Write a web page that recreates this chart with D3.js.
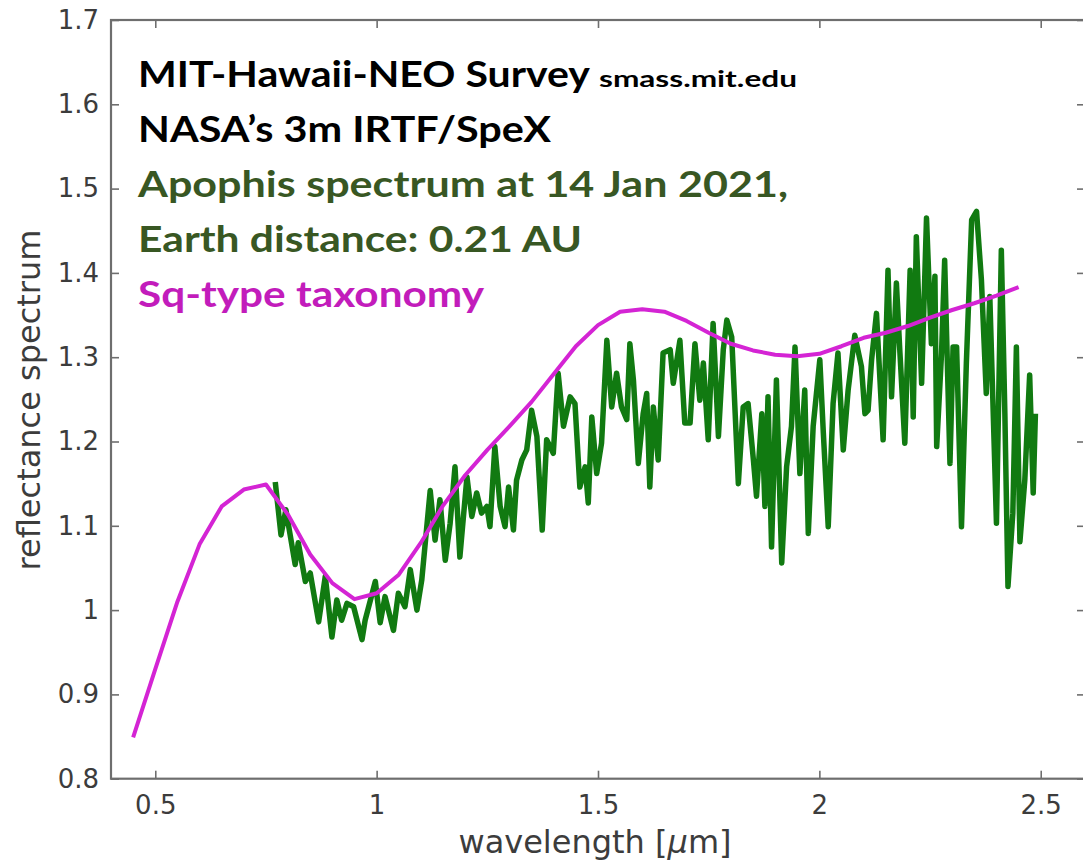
<!-- Apophis reflectance spectrum, MIT-Hawaii NEO survey -->
<head><title>Apophis spectrum</title></head>

<script src="https://d3js.org/d3.v7.min.js"></script>

<body style="margin:0; background:white;">
<svg></svg>

<script>

// Sq-type taxonomy template (magenta curve)
var sqWave = [0.45,0.5,0.55,0.6,0.65,0.7,0.75,0.8,0.85,0.9,0.95,1.0,1.05,1.1,1.15,1.2,1.25,1.3,1.35,1.4,1.45,1.5,1.55,1.6,1.65,1.7,1.75,1.8,1.85,1.9,1.95,2.0,2.05,2.1,2.15,2.2,2.25,2.3,2.35,2.4,2.45];
var sqRefl = [0.849,0.93,1.01,1.078,1.123,1.143,1.149,1.113,1.066,1.032,1.013,1.02,1.042,1.08,1.124,1.16,1.19,1.218,1.247,1.28,1.313,1.338,1.354,1.357,1.354,1.343,1.329,1.316,1.308,1.303,1.301,1.304,1.313,1.323,1.329,1.337,1.347,1.356,1.364,1.373,1.383];

// Apophis spectrum, 14 Jan 2021 (green curve)
var apWave = [0.771,0.784,0.795,0.816,0.823,0.839,0.850,0.869,0.884,0.899,0.910,0.921,0.933,0.948,0.967,0.974,0.997,1.008,1.019,1.038,1.049,1.064,1.076,1.091,1.102,1.121,1.132,1.143,1.155,1.166,1.177,1.188,
  1.204,1.215,1.226,1.237,1.249,1.256,1.267,1.279,1.290,1.298,1.309,1.316,1.328,1.339,1.350,1.362,1.374,1.384,1.399,1.410,1.422,1.437,1.448,1.459,1.471,1.478,1.486,1.497,1.508,1.520,1.531,1.542,1.553,1.565,1.572,1.580,1.591,1.602,1.610,1.617,1.625,1.636,1.647,
  1.663,1.670,1.685,1.696,1.708,1.719,1.730,1.738,1.749,1.760,1.772,1.783,1.791,1.802,1.817,1.828,1.839,1.851,1.858,1.870,1.877,1.884,1.892,1.903,1.915,1.926,1.937,1.945,1.956,1.967,1.975,1.986,2.001,2.009,2.020,2.031,2.042,2.054,2.065,2.080,2.095,2.103,
  2.110,2.118,2.129,2.144,2.155,2.163,2.174,2.182,2.193,2.205,2.212,2.219,2.231,2.242,2.253,2.261,2.265,2.276,2.283,2.295,2.302,2.310,2.321,2.332,2.344,2.355,2.366,2.377,2.385,2.400,2.411,2.419,2.426,2.437,2.445,2.453,2.464,2.475,2.483,2.488];
var apRefl = [1.152,1.089,1.119,1.054,1.080,1.034,1.044,0.986,1.040,0.968,1.012,0.988,1.008,1.004,0.965,0.988,1.034,0.985,1.016,0.976,1.020,1.004,1.048,1.000,1.036,1.142,1.083,1.131,1.059,1.103,1.170,1.063,
  1.158,1.111,1.139,1.115,1.123,1.099,1.194,1.123,1.099,1.146,1.095,1.154,1.178,1.190,1.237,1.206,1.095,1.202,1.186,1.281,1.218,1.253,1.245,1.146,1.170,1.127,1.229,1.162,1.198,1.320,1.241,1.281,1.241,1.226,1.316,1.273,1.174,1.233,1.257,1.146,1.241,1.178,1.305,
  1.309,1.269,1.320,1.222,1.222,1.316,1.249,1.293,1.202,1.340,1.206,1.309,1.344,1.324,1.150,1.241,1.245,1.178,1.135,1.233,1.123,1.253,1.075,1.273,1.056,1.170,1.218,1.312,1.162,1.261,1.091,1.218,1.297,1.210,1.099,1.245,1.305,1.190,1.261,1.326,1.289,1.233,
  1.237,1.297,1.352,1.202,1.403,1.253,1.388,1.305,1.198,1.403,1.229,1.443,1.269,1.465,1.316,1.396,1.194,1.305,1.415,1.174,1.312,1.312,1.099,1.293,1.463,1.473,1.392,1.257,1.372,1.103,1.427,1.233,1.028,1.115,1.312,1.081,1.154,1.279,1.139,1.233];

var xTicks = [0.5, 1, 1.5, 2, 2.5];
var yTicks = [0.8, 0.9, 1, 1.1, 1.2, 1.3, 1.4, 1.5, 1.6, 1.7];

var titleLines = [
  {text: "MIT-Hawaii-NEO Survey", color: "#000000", len: 452},
  {text: "NASA\u2019s 3m IRTF/SpeX", color: "#000000", len: 413},
  {text: "Apophis spectrum at 14 Jan 2021,", color: "#385723", len: 650},
  {text: "Earth distance: 0.21 AU", color: "#385723", len: 444},
  {text: "Sq-type taxonomy", color: "#c21cbb", len: 346}
];

var W = 1083, H = 862;
var plotL = 111, plotT = 20, plotR = 1085, plotB = 778.7;

var svg = d3.select('svg')
  .attr("width", W)
  .attr("height", H)
  .style("display", "block");

var x = d3.scaleLinear().domain([0.4, 2.6]).range([plotL, plotR]);
var y = d3.scaleLinear().domain([0.8, 1.7]).range([plotB, plotT]);

var fmt = function(d) { return String(+d.toFixed(1)); };
var axisColor = "#6e6e6e";
var labelColor = "#3c3c3c";

// axes, ticks pointing inward like matlab
var gx = svg.append("g")
  .attr("transform", "translate(0," + plotB + ")")
  .call(d3.axisBottom(x).tickValues(xTicks).tickFormat(fmt).tickSizeInner(-8).tickSizeOuter(0).tickPadding(17));
var gy = svg.append("g")
  .attr("transform", "translate(" + plotL + ",0)")
  .call(d3.axisLeft(y).tickValues(yTicks).tickFormat(fmt).tickSizeInner(-8).tickSizeOuter(0).tickPadding(12));
var gt = svg.append("g")
  .attr("transform", "translate(0," + plotT + ")")
  .call(d3.axisTop(x).tickValues(xTicks).tickFormat("").tickSizeInner(-8).tickSizeOuter(0));
var gr = svg.append("g")
  .attr("transform", "translate(" + plotR + ",0)")
  .call(d3.axisRight(y).tickValues(yTicks).tickFormat("").tickSizeInner(-8).tickSizeOuter(0));

[gx, gy, gt, gr].forEach(function(g) {
  g.select(".domain").remove();
  g.selectAll(".tick line").attr("stroke", axisColor).attr("stroke-width", 1.6);
  g.selectAll("text")
    .attr("fill", labelColor)
    .style("font-family", "'DejaVu Sans', sans-serif")
    .style("font-size", "26px");
});

// box
svg.append("rect")
  .attr("x", plotL).attr("y", plotT)
  .attr("width", plotR - plotL).attr("height", plotB - plotT)
  .attr("fill", "none")
  .attr("stroke", axisColor)
  .attr("stroke-width", 2.2);

var line = d3.line()
  .x(function(d) { return x(d[0]); })
  .y(function(d) { return y(d[1]); });

var apData = apWave.map(function(w, i) { return [w, apRefl[i]]; });
var sqData = sqWave.map(function(w, i) { return [w, sqRefl[i]]; });

svg.append("path")
  .datum(apData)
  .attr("d", line)
  .attr("fill", "none")
  .attr("stroke", "#117a11")
  .attr("stroke-width", 5.5)
  .attr("stroke-linejoin", "round");

svg.append("path")
  .datum(sqData)
  .attr("d", line)
  .attr("fill", "none")
  .attr("stroke", "#d424d4")
  .attr("stroke-width", 4)
  .attr("stroke-linejoin", "round");

// axis labels
svg.append("text")
  .attr("x", (plotL + plotR) / 2 - 3)
  .attr("y", 853)
  .attr("text-anchor", "middle")
  .attr("fill", labelColor)
  .style("font-family", "'DejaVu Sans', sans-serif")
  .style("font-size", "32px")
  .html("wavelength [<tspan font-style='italic'>\u03bc</tspan>m]");

svg.append("text")
  .attr("transform", "translate(40," + 400 + ") rotate(-90)")
  .attr("text-anchor", "middle")
  .attr("fill", labelColor)
  .style("font-family", "'DejaVu Sans', sans-serif")
  .style("font-size", "32px")
  .text("reflectance spectrum");

// annotation block
var notes = svg.append("g").attr("transform", "translate(138,0)");
notes.selectAll("text.note")
  .data(titleLines)
  .enter().append("text")
  .attr("class", "note")
  .attr("x", 0)
  .attr("y", function(d, i) { return 87 + i * 55; })
  .attr("fill", function(d) { return d.color; })
  .attr("textLength", function(d) { return d.len; })
  .attr("lengthAdjust", "spacingAndGlyphs")
  .style("font-family", "Lato, 'Open Sans', sans-serif")
  .style("font-weight", "bold")
  .style("font-size", "36px")
  .text(function(d) { return d.text; });

notes.append("text")
  .attr("x", 461)
  .attr("y", 87)
  .attr("fill", "#000000")
  .attr("textLength", 198)
  .attr("lengthAdjust", "spacingAndGlyphs")
  .style("font-family", "Lato, 'Open Sans', sans-serif")
  .style("font-weight", "bold")
  .style("font-size", "22px")
  .text("smass.mit.edu");

</script>
</body>
